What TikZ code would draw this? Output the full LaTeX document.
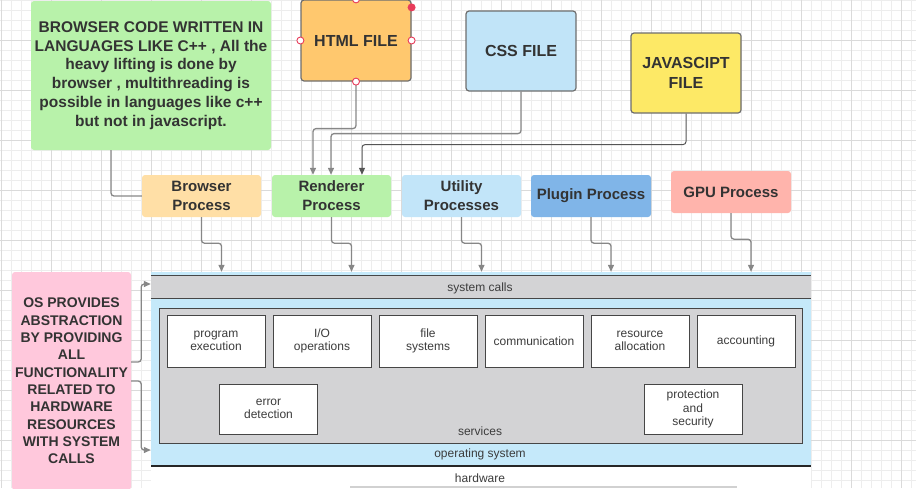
\documentclass[tikz,border=0pt]{standalone}
\usepackage{fontspec}
\setmainfont{Liberation Sans}
\usepackage{tikz}
\usetikzlibrary{arrows.meta}
\definecolor{notegreen}{RGB}{184,242,170}
\definecolor{htmlorange}{RGB}{255,200,110}
\definecolor{cssblue}{RGB}{193,228,248}
\definecolor{jsyellow}{RGB}{253,233,102}
\definecolor{browserorange}{RGB}{255,223,166}
\definecolor{utilityblue}{RGB}{194,229,249}
\definecolor{pluginblue}{RGB}{128,181,232}
\definecolor{gpured}{RGB}{255,180,172}
\definecolor{notepink}{RGB}{255,200,220}
\definecolor{osblue}{RGB}{197,233,250}
\definecolor{osgray}{RGB}{211,211,213}
\definecolor{osline}{RGB}{70,70,70}
\definecolor{ostext}{RGB}{60,60,60}
\definecolor{textgray}{RGB}{51,51,51}
\definecolor{fileborder}{RGB}{110,110,110}
\definecolor{conngray}{RGB}{135,135,135}
\definecolor{conndark}{RGB}{85,85,85}
\definecolor{handlered}{RGB}{232,60,90}
\definecolor{gridminor}{RGB}{237,237,237}
\definecolor{gridmajor}{RGB}{218,218,218}

\begin{document}
\begin{tikzpicture}[x=1pt,y=-1pt,
    filebox/.style={draw=fileborder,line width=1.2pt,rounded corners=3pt,minimum width=110pt,minimum height=80pt,inner sep=0pt,align=center,text=textgray,font=\bfseries\fontsize{16}{20}\selectfont},
    procbox/.style={rounded corners=3pt,minimum width=119pt,minimum height=42pt,inner sep=0pt,align=center,text=textgray,font=\bfseries\fontsize{15}{19}\selectfont},
    svcbox/.style={draw=osline,fill=white,line width=0.9pt,minimum width=98pt,minimum height=52pt,inner sep=0pt,align=center,text=ostext,font=\fontsize{12}{13.5}\selectfont},
    oslabel/.style={inner sep=0pt,text=ostext,font=\fontsize{12}{14}\selectfont},
    conn/.style={draw=conngray,line width=1.3pt,rounded corners=3pt},
    tip/.style={-{Triangle[width=6pt,length=7pt]}},
    handle/.style={circle,draw=handlered,fill=white,line width=0.9pt,minimum size=7pt,inner sep=0pt}]
    \useasboundingbox (0,0) rectangle (916,488);

    % background grid
    \foreach \x in {1,11,...,911} \draw[gridminor,line width=0.8pt] (\x,0) -- (\x,488);
    \foreach \y in {0,10,...,480} \draw[gridminor,line width=0.8pt] (0,\y) -- (916,\y);
    \foreach \x in {1,51,...,901} \draw[gridmajor,line width=0.8pt] (\x,0) -- (\x,488);
    \foreach \y in {40,90,...,440} \draw[gridmajor,line width=0.8pt] (0,\y) -- (916,\y);

    \node[fill=notegreen,rounded corners=3pt,minimum width=240pt,minimum height=149pt,inner sep=0pt,align=center,text=textgray,font=\bfseries\fontsize{15.5}{18.7}\selectfont] (note) at (151,75.5) {BROWSER CODE WRITTEN IN\\LANGUAGES LIKE C++ , All the\\heavy lifting is done by\\browser , multithreading is\\possible in languages like c++\\but not in javascript.};

    \node[filebox,fill=htmlorange,minimum height=81pt] (html) at (356,40.5) {HTML FILE};
    \node[filebox,fill=cssblue] (css) at (521,51) {CSS FILE};
    \node[filebox,fill=jsyellow] (js) at (686,73) {JAVASCIPT\\FILE};

    \node[procbox,fill=browserorange] (browser) at (201.5,196) {Browser\\Process};
    \node[procbox,fill=notegreen] (renderer) at (331.5,196) {Renderer\\Process};
    \node[procbox,fill=utilityblue] (utility) at (461.5,196) {Utility\\Processes};
    \node[procbox,fill=pluginblue,minimum width=120pt] (plugin) at (591,196) {Plugin Process};
    \node[procbox,fill=gpured,minimum width=120pt] (gpu) at (731,192) {GPU Process};

    \node[fill=notepink,rounded corners=3pt,minimum width=119pt,minimum height=218pt,inner sep=0pt,align=center,text=textgray,font=\bfseries\fontsize{14}{17.3}\selectfont] (osnote) at (71.5,381) {OS PROVIDES\\ABSTRACTION\\BY PROVIDING\\ALL\\FUNCTIONALITY\\RELATED TO\\HARDWARE\\RESOURCES\\WITH SYSTEM\\CALLS};

    % operating system layers
    \node[fill=osblue,minimum width=660pt,minimum height=194pt,inner sep=0pt] (os) at (481,369) {};
    \node[fill=osgray,minimum width=660pt,minimum height=22pt,inner sep=0pt] (syscalls) at (481,287) {};
    \draw[osline,line width=1.2pt] (syscalls.north west) -- (syscalls.north east) (syscalls.south west) -- (syscalls.south east);
    \node[oslabel] (syscallstext) at (480,288) {system calls};
    \node[fill=osgray,draw=osline,line width=1pt,minimum width=643pt,minimum height=135pt,inner sep=0pt] (services) at (480.5,375.5) {};
    \node[svcbox] (progexec) at (216,341) {program\\execution};
    \node[svcbox] (io) at (322,341) {I/O\\operations};
    \node[svcbox] (filesys) at (428,341) {file\\systems};
    \node[svcbox] (comm) at (534,341) {communication};
    \node[svcbox] (resalloc) at (640,341) {resource\\allocation};
    \node[svcbox] (accounting) at (746,341) {accounting};
    \node[svcbox,minimum height=50pt] (errdetect) at (268.5,409) {error\\detection};
    \node[svcbox,minimum height=50pt] (protect) at (693,409) {protection\\and\\security};
    \node[oslabel] (servicestext) at (480,431) {services};
    \node[oslabel] (ostext) at (480,454) {operating system};
    \fill[white] (151,466) rectangle (811,490);
    \draw[black!85,line width=1.4pt] (151,466) -- (811,466);
    \draw[black!18,line width=2pt] (350,487) -- (737,487);
    \node[oslabel] (hardwaretext) at (480,478) {hardware};

    % connectors
    \draw[conn] ([xshift=-40pt]note.south) |- (browser.west);
    \draw[conn,tip] (html.south) -- ++(0,47) -| ([xshift=-18.5pt]renderer.north);
    \draw[conn,tip] (css.south) -- ++(0,42) -| ([xshift=-0.5pt]renderer.north);
    \draw[conn,draw=conndark,line width=1pt,tip] (js.south) -- ++(0,31) -| ([xshift=30.5pt]renderer.north);
    \foreach \p in {browser,renderer,utility,plugin,gpu}
        \draw[conn,tip] (\p.south) -- ++(0,26) -| ([xshift=20pt]\p.south |- os.north);
    \draw[conn,tip] ([yshift=19pt]osnote.east) -- ++(10,0) |- ([yshift=85pt]os.west);
    \draw[conn,tip] ([yshift=0pt]osnote.east) -- ++(10,0) |- ([yshift=-81pt]os.west);

    % selection handles
    \foreach \a in {north,south,east,west} \node[handle] at (html.\a) {};
    \fill[handlered] ([yshift=-8pt]html.north east) circle (4);
\end{tikzpicture}
\end{document}
